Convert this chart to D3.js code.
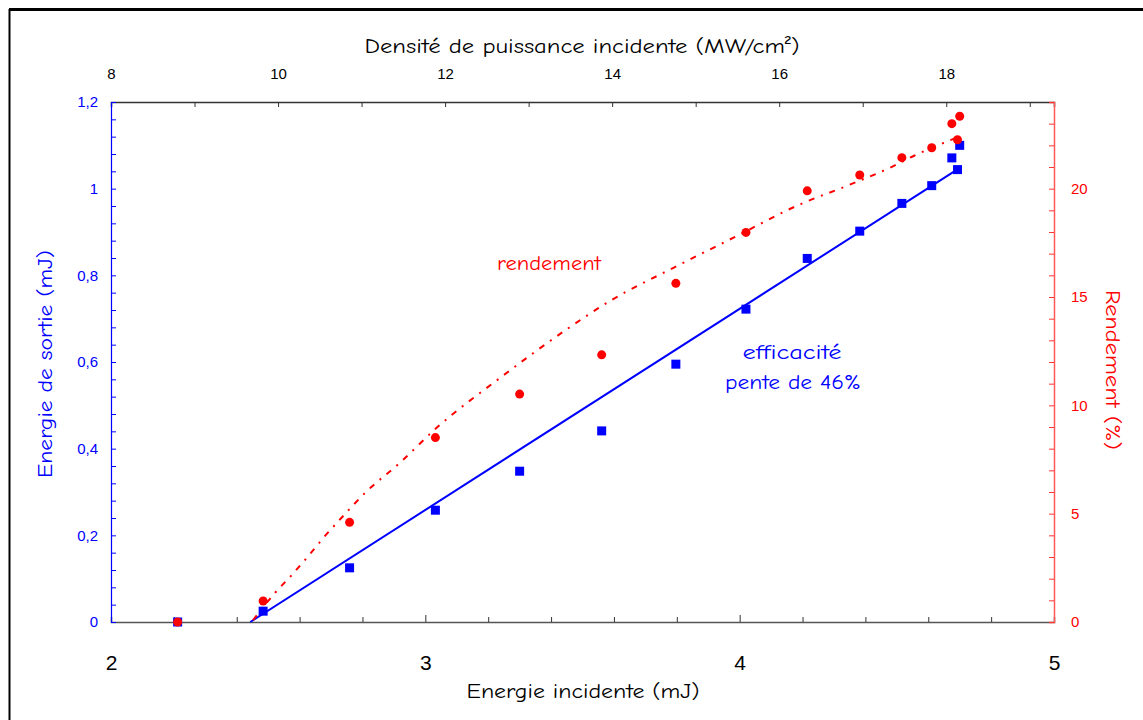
<!DOCTYPE html>
<html><head><meta charset="utf-8">
<script src="https://cdn.jsdelivr.net/npm/d3@7"></script>
<style>
body{margin:0;background:#fff;}
svg{display:block;}
</style></head>
<body>
<svg id="chart" width="1143" height="720"></svg>
<script>
// ---- data ----
const energieIncidente = [2.212, 2.484, 2.759, 3.032, 3.300, 3.561, 3.797, 4.020, 4.215, 4.382, 4.516, 4.611, 4.675, 4.700, 4.693];
const energieSortie    = [0, 0.025, 0.125, 0.258, 0.348, 0.441, 0.595, 0.722, 0.839, 0.902, 0.966, 1.007, 1.071, 1.100, 1.044];
const rendement        = [0, 0.97, 4.6, 8.51, 10.52, 12.33, 15.63, 17.98, 19.9, 20.63, 21.43, 21.89, 23.0, 23.34, 22.26];
// linear fit (slope 46%)
const fitE = [2.443, 4.694];
const fitS = [0, 1.045];
// rendement trend curve
const trendE = [2.452, 2.522, 2.577, 2.628, 2.676, 2.729, 2.809, 2.920, 3.035, 3.239, 3.451, 3.589, 3.791, 3.982, 4.194, 4.343, 4.486, 4.555, 4.693];
const trendR = [0.09, 1.35, 2.20, 3.05, 3.89, 4.74, 5.97, 7.36, 8.95, 11.28, 13.52, 14.83, 16.36, 17.75, 19.29, 20.14, 21.02, 21.52, 22.37];
// axes ticks / labels
const bottomTickLabels = [2, 3, 4, 5];
const leftTickLabels = [0, 0.2, 0.4, 0.6, 0.8, 1, 1.2];
const rightTickLabels = [0, 5, 10, 15, 20];
const topTickLabels = [8, 10, 12, 14, 16, 18];
const topMinorTicks = [9, 10, 11, 12, 13, 14, 15, 16, 17, 18, 19];

const svg = d3.select("#chart");
const L = 111, R = 1054, T = 102, B = 622;
const x = d3.scaleLinear().domain([2, 5]).range([L, R]);
const xTop = d3.scaleLinear().domain([8, 19.29]).range([L, R]);
const yL = d3.scaleLinear().domain([0, 1.2]).range([B, T]);
const yR = d3.scaleLinear().domain([0, 24]).range([B, T]);

const titleFont = "'Comic Sans MS','Comic Neue','Open Sans',sans-serif";
const tickFont = "'Liberation Sans',Arial,sans-serif";

// outer border
svg.append("line").attr("x1", 9).attr("x2", 1143).attr("y1", 9.5).attr("y2", 9.5).attr("stroke", "#000").attr("stroke-width", 3);
svg.append("line").attr("x1", 9.5).attr("x2", 9.5).attr("y1", 9).attr("y2", 720).attr("stroke", "#000").attr("stroke-width", 2);

// axes via d3
const fmtComma = d => String(d).replace(".", ",");
const gB = svg.append("g").attr("transform", `translate(0,${B})`)
  .call(d3.axisTop(x).tickValues(d3.range(2, 5.001, 0.2)).tickSize(5).tickFormat(""));
gB.select(".domain").attr("stroke", "#555").attr("stroke-width", 1.5);
gB.selectAll(".tick line").attr("stroke", "#333").attr("y2", (d) => Math.abs(d - Math.round(d)) < 1e-6 ? -7 : -5);

const gBl = svg.append("g").attr("transform", `translate(0,${B + 48})`)
  .call(d3.axisBottom(x).tickValues(bottomTickLabels).tickSize(0).tickFormat(d3.format("d")));
gBl.select(".domain").remove();
gBl.selectAll("text").attr("font-family", tickFont).attr("font-size", 21).attr("fill", "#000").attr("dy", 0).attr("y", 0);

const gT = svg.append("g").attr("transform", `translate(0,${T})`)
  .call(d3.axisBottom(xTop).tickValues(topMinorTicks).tickSize(5).tickFormat(""));
gT.select(".domain").attr("stroke", "#333").attr("stroke-width", 1.5);
gT.selectAll(".tick line").attr("stroke", "#333");

const gTl = svg.append("g").attr("transform", `translate(0,${T - 23})`)
  .call(d3.axisTop(xTop).tickValues(topTickLabels).tickSize(0).tickFormat(d3.format("d")));
gTl.select(".domain").remove();
gTl.selectAll("text").attr("font-family", tickFont).attr("font-size", 15).attr("fill", "#000").attr("y", 0);

const gL = svg.append("g").attr("transform", `translate(${L},0)`)
  .call(d3.axisRight(yL).tickValues(d3.range(0, 1.2001, 0.04)).tickSize(5).tickFormat(""));
gL.select(".domain").attr("stroke", "#0000ff").attr("stroke-width", 1.2);
gL.selectAll(".tick line").attr("stroke", "#0000ff");

const gLl = svg.append("g").attr("transform", `translate(${L - 13},0)`)
  .call(d3.axisLeft(yL).tickValues(leftTickLabels).tickSize(0).tickFormat(fmtComma));
gLl.select(".domain").remove();
gLl.selectAll("text").attr("font-family", tickFont).attr("font-size", 15).attr("fill", "#0000ff").attr("x", 0);

const gR = svg.append("g").attr("transform", `translate(${R},0)`)
  .call(d3.axisLeft(yR).tickValues(d3.range(0, 24.001, 1)).tickSize(5).tickFormat(""));
gR.select(".domain").attr("stroke", "#ff5a5a").attr("stroke-width", 1.5);
gR.selectAll(".tick line").attr("stroke", "#ff3333");

const gRl = svg.append("g").attr("transform", `translate(${R + 17},0)`)
  .call(d3.axisRight(yR).tickValues(rightTickLabels).tickSize(0).tickFormat(d3.format("d")));
gRl.select(".domain").remove();
gRl.selectAll("text").attr("font-family", tickFont).attr("font-size", 15).attr("fill", "#ff0000").attr("x", 0);

function label(txt, tx, ty, rot, color, len) {
  svg.append("text")
    .attr("transform", `translate(${tx},${ty}) rotate(${rot})`)
    .attr("text-anchor", "middle")
    .attr("font-family", titleFont).attr("font-size", 21).attr("fill", color)
    .attr("textLength", len).attr("lengthAdjust", "spacingAndGlyphs")
    .text(txt);
}
// axis titles
label("Densité de puissance incidente (MW/cm²)", 582, 53, 0, "#000", 435);
label("Energie incidente (mJ)", 583, 698, 0, "#000", 233);
label("Energie de sortie (mJ)", 52, 364, -90, "#0000ff", 228);
label("Rendement (%)", 1106, 370, 90, "#ff0000", 160);

// fit line
svg.append("line")
  .attr("x1", x(fitE[0])).attr("y1", yL(fitS[0]))
  .attr("x2", x(fitE[1])).attr("y2", yL(fitS[1]))
  .attr("stroke", "#0000ff").attr("stroke-width", 2);

// rendement trend
const trend = trendE.map((e, i) => [e, trendR[i]]);
svg.append("path").datum(trend)
  .attr("d", d3.line().x(d => x(d[0])).y(d => yR(d[1])).curve(d3.curveMonotoneX))
  .attr("fill", "none").attr("stroke", "#ff0000").attr("stroke-width", 2)
  .attr("stroke-dasharray", "6,7,2,7");

// blue squares
const pts = energieIncidente.map((e, i) => ({e, s: energieSortie[i], r: rendement[i]}));
svg.append("g").selectAll("rect").data(pts).join("rect")
  .attr("x", d => x(d.e) - 4.5).attr("y", d => yL(d.s) - 4.5)
  .attr("width", 9).attr("height", 9).attr("fill", "#0000ff");
// red circles
svg.append("g").selectAll("circle").data(pts).join("circle")
  .attr("cx", d => x(d.e)).attr("cy", d => yR(d.r)).attr("r", 4.5).attr("fill", "#ff0000");

// annotations
label("rendement", 549, 270, 0, "#ff0000", 104);
label("efficacité", 792, 359, 0, "#0000ff", 99);
label("pente de 46%", 793, 389, 0, "#0000ff", 136);
</script>
</body></html>
